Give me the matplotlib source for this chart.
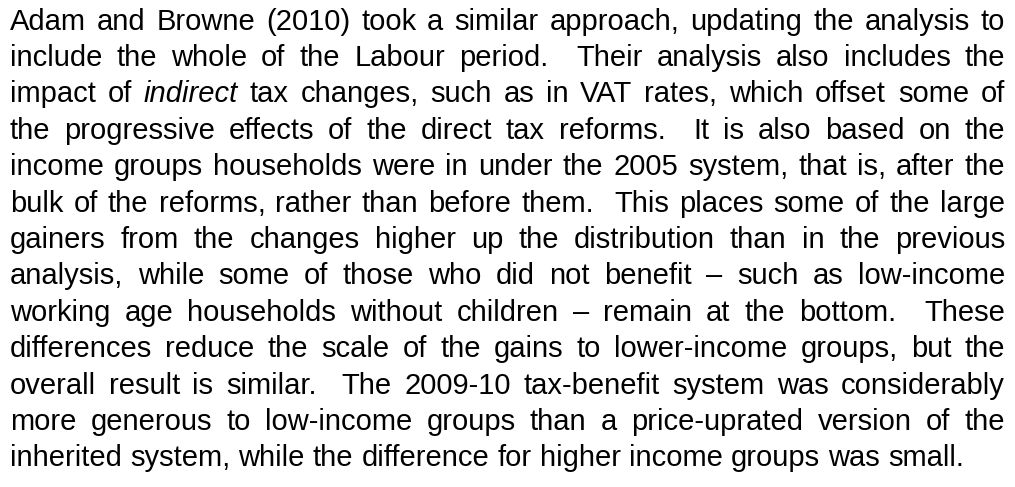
import matplotlib
matplotlib.use("Agg")
import matplotlib.pyplot as plt

# paragraph lines, exactly as wrapped in the reference (*word* = italic)
lines = [
    "Adam and Browne (2010) took a similar approach, updating the analysis to",
    "include the whole of the Labour period.  Their analysis also includes the",
    "impact of *indirect* tax changes, such as in VAT rates, which offset some of",
    "the progressive effects of the direct tax reforms.  It is also based on the",
    "income groups households were in under the 2005 system, that is, after the",
    "bulk of the reforms, rather than before them.  This places some of the large",
    "gainers from the changes higher up the distribution than in the previous",
    "analysis, while some of those who did not benefit \u2013 such as low-income",
    "working age households without children \u2013 remain at the bottom.  These",
    "differences reduce the scale of the gains to lower-income groups, but the",
    "overall result is similar.  The 2009-10 tax-benefit system was considerably",
    "more generous to low-income groups than a price-uprated version of the",
    "inherited system, while the difference for higher income groups was small.",
]

W, H = 1015, 487
LEFT, RIGHT = 10, 1005
FIRST_BASE, LINE_STEP = 29.5, 36.4
LAST_LINE_WIDTH = 957
FONT = "Liberation Sans"

fig = plt.figure(figsize=(W / 100, H / 100), dpi=100)
fig.patch.set_facecolor("white")
renderer = fig.canvas.get_renderer()


def word_width(word, size, italic=False):
    t = fig.text(0, 0, word, fontsize=size, family=FONT,
                 style="italic" if italic else "normal")
    w = t.get_window_extent(renderer).width
    t.remove()
    return w


def parse(line):
    out = []
    for tok in line.split(" "):
        if tok.startswith("*") and tok.endswith("*"):
            out.append((tok.strip("*"), True))
        else:
            out.append((tok, False))
    return out


# font size chosen so the last (unjustified) line matches the reference width
base = 10.0
size = base * LAST_LINE_WIDTH / word_width(lines[-1], base)
space = word_width("a a", size) - word_width("aa", size)

for i, line in enumerate(lines):
    y = H - (FIRST_BASE + i * LINE_STEP)
    toks = parse(line)
    widths = [word_width(w, size, it) if w else 0 for w, it in toks]
    if i < len(lines) - 1:
        gap = (RIGHT - LEFT - sum(widths)) / (len(toks) - 1)
    else:
        gap = space
    x = LEFT
    for (w, it), ww in zip(toks, widths):
        if w:
            fig.text(x / W, y / H, w, fontsize=size, family=FONT,
                     style="italic" if it else "normal",
                     ha="left", va="baseline", color="black")
        x += ww + gap

fig.savefig("out.png", dpi=100, facecolor="white")
